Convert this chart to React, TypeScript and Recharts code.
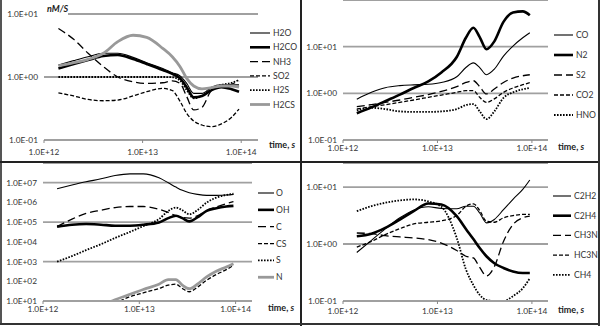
import { CartesianGrid, Legend, Line, LineChart, XAxis, YAxis } from "recharts"

// time points, s
const times = [1.4e12, 2e12, 2.8e12, 4e12, 5.6e12, 8e12, 1.1e13, 1.6e13, 2e13, 2.4e13, 2.8e13, 3.3e13, 4e13, 5e13, 6.3e13, 8e13, 9.5e13]
const xTicks = [1e12, 1e13, 1e14]

// top left, nM/s
const h2o = [1.55, 1.82, 2.1, 2.38, 2.38, 2.05, 1.69, 1.37, 1.17, 1.04, 0.79, 0.55, 0.55, 0.69, 0.75, 0.75, 0.75]
const h2co = [1.37, 1.61, 1.86, 2.15, 2.23, 1.93, 1.61, 1.29, 1.12, 0.95, 0.69, 0.475, 0.5, 0.62, 0.69, 0.64, 0.585]
const nh3 = [5.9, 3.96, 2.38, 1.46, 1.0, 0.84, 0.79, 0.81, 0.87, 0.79, 0.49, 0.3, 0.33, 0.61, 0.7, 0.77, 0.87]
const so2 = [0.56, 0.5, 0.44, 0.42, 0.43, 0.5, 0.585, 0.66, 0.61, 0.41, 0.265, 0.2, 0.173, 0.163, 0.18, 0.23, 0.31]
const h2s = [1, 1, 1, 1, 1, 1, 1, 1, 0.99, 0.875, 0.62, 0.46, 0.5, 0.66, 0.75, 0.81, 0.9]
const h2cs = [1.5, 1.69, 1.91, 2.38, 3.64, 4.6, 4.26, 2.85, 2.1, 1.46, 0.95, 0.72, 0.65, 0.68, 0.72, 0.72, 0.69]

// top right
const co = [0.75, 1.05, 1.32, 1.46, 1.52, 1.56, 1.7, 2.26, 3.57, 4.49, 3.57, 2.5, 3.3, 6.3, 10.3, 15.5, 19.9]
const n2 = [0.375, 0.5, 0.68, 0.94, 1.3, 1.8, 2.8, 6.0, 15.5, 25.4, 16, 8.8, 13, 34, 54, 57, 47]
const s2 = [0.52, 0.574, 0.64, 0.72, 0.82, 0.94, 1.1, 1.39, 1.71, 1.86, 1.39, 0.97, 1.24, 1.71, 2.12, 2.38, 2.5]
const co2 = [0.46, 0.52, 0.57, 0.64, 0.72, 0.82, 0.92, 1.05, 1.14, 1.14, 0.82, 0.64, 0.76, 1.05, 1.3, 1.53, 1.69]
const hno = [0.43, 0.49, 0.46, 0.41, 0.4, 0.4, 0.41, 0.46, 0.56, 0.59, 0.41, 0.28, 0.41, 0.8, 1.05, 1.22, 1.3]

// bottom left
const o = [4.95e6, 7.6e6, 1.11e7, 1.58e7, 2.32e7, 2.81e7, 2.81e7, 1.77e7, 9.9e6, 6.0e6, 4.1e6, 3.1e6, 2.57e6, 2.29e6, 2.29e6, 2.38e6, 2.57e6]
const oh = [5.9e4, 7.4e4, 8.0e4, 7.4e4, 6.6e4, 6.6e4, 7.4e4, 9.7e4, 1.6e5, 2.1e5, 1.6e5, 1.09e5, 1.73e5, 3.74e5, 5.1e5, 6.2e5, 6.7e5]
const c = [5.9e4, 1.43e5, 2.75e5, 4.04e5, 5.5e5, 6.2e5, 6.2e5, 4.5e5, 3.1e5, 2.1e5, 1.73e5, 1.6e5, 2.1e5, 3.74e5, 5.9e5, 8.7e5, 1.1e6]
const cs = [1, 1.7, 2.8, 4.6, 8, 16.5, 26, 43, 64, 71, 43, 29.5, 49, 113, 219, 390, 650]
const s = [1e3, 1.9e3, 3.8e3, 7.6e3, 1.58e4, 3.2e4, 6.3e4, 1.43e5, 3.7e5, 5.5e5, 4.0e5, 2.5e5, 4.0e5, 9.8e5, 1.75e6, 2.4e6, 2.76e6]
const n = [1.3, 2.2, 3.6, 6, 11.5, 22, 38.5, 71, 122, 122, 64, 41.7, 71, 166, 320, 530, 780]

// bottom right
const c2h2 = [0.71, 1.16, 1.84, 2.88, 3.93, 4.5, 4.2, 4.15, 4.6, 4.6, 3.5, 2.35, 2.7, 4.0, 6.1, 9.1, 13.3]
const c2h4 = [1.37, 1.52, 1.92, 2.69, 3.77, 5.15, 4.94, 3.08, 1.84, 1.22, 0.85, 0.61, 0.46, 0.38, 0.33, 0.31, 0.31]
const ch3n = [1.56, 1.52, 1.4, 1.33, 1.28, 1.19, 1.04, 0.77, 0.61, 0.57, 0.39, 0.276, 0.4, 1.11, 2.19, 2.88, 3.08]
const hc3n = [0.885, 1.11, 1.46, 1.86, 2.25, 2.41, 2.55, 3.16, 4.6, 5.08, 3.87, 2.51, 2.41, 2.88, 3.16, 3.3, 3.3]
const ch4 = [3.77, 4.62, 5.29, 5.82, 6.06, 5.58, 4.5, 1.28, 0.36, 0.19, 0.128, 0.104, 0.1, 0.1, 0.122, 0.167, 0.25]

type Style = { w: number; dash?: string; color: string }
const thin: Style = { w: 1.1, color: "#000" }
const thick: Style = { w: 2.6, color: "#000" }
const longDash: Style = { w: 1.3, dash: "8 4", color: "#000" }
const shortDash: Style = { w: 1.3, dash: "4 2", color: "#000" }
const dotted: Style = { w: 1.8, dash: "1.6 1.4", color: "#000" }
const gray: Style = { w: 2.8, color: "#999" }

type Series = { name: string; values: number[]; style: Style }

const FONT = "Lato, 'Open Sans', sans-serif"
const GRID = "#a0a0a0"
const TICK_FS = 8.3

const sci = (v: number) => {
  const e = Math.round(Math.log10(v))
  return `1.0E${e < 0 ? "-" : "+"}${String(Math.abs(e)).padStart(2, "0")}`
}

type PanelProps = {
  x: number
  y: number
  width: number
  height: number
  series: Series[]
  yDomain: [number, number]
  yTicks: number[]
  top: number
  left: number
  right: number
  xHeight: number
  xTickMargin: number
  legendY: number
  legendGap: number
  legendX: [number, number, number]
  timeDx: number
  timeDy: number
  unit?: boolean
}

function Panel(p: PanelProps) {
  const rows = times.map((t, i) => {
    const r: Record<string, number> = { t }
    p.series.forEach((ser) => (r[ser.name] = ser.values[i]))
    return r
  })

  const legend = () => (
    <svg width={p.right} height={10} style={{ overflow: "visible", display: "block" }}>
      {p.series.map((ser, i) => {
        const ly = p.legendY + i * p.legendGap
        return (
          <g key={ser.name}>
            <line x1={p.legendX[0]} x2={p.legendX[1]} y1={ly} y2={ly} stroke={ser.style.color}
              strokeWidth={ser.style.w} strokeDasharray={ser.style.dash} />
            <text x={p.legendX[2]} y={ly} dy="0.35em" fontSize={8.6} fill="#333" fontFamily={FONT}>{ser.name}</text>
          </g>
        )
      })}
    </svg>
  )

  return (
    <div style={{ position: "absolute", left: p.x, top: p.y }}>
      <LineChart width={p.width} height={p.height} data={rows}
        margin={{ top: p.top, right: 0, bottom: 0, left: 0 }}>
        <CartesianGrid vertical={false} stroke={GRID} strokeWidth={1.8} />
        <XAxis dataKey="t" type="number" scale="log" domain={[1e12, 1.48e14]} ticks={xTicks}
          tickFormatter={sci} height={p.xHeight} tickSize={3} tickMargin={p.xTickMargin}
          axisLine={{ stroke: GRID, strokeWidth: 1.8 }} tickLine={{ stroke: "#888" }}
          tick={{ fontSize: TICK_FS, fill: "#333", fontFamily: FONT }}
          label={{
            content: (props: any) => {
              const vb = props.viewBox
              return (
                <text x={vb.x + vb.width + p.timeDx} y={vb.y + p.timeDy} fontSize={9} fill="#222" fontFamily={FONT} fontWeight="bold">
                  time, <tspan fontStyle="italic">s</tspan>
                </text>
              )
            },
          }} />
        <YAxis type="number" scale="log" domain={p.yDomain} ticks={p.yTicks} allowDataOverflow
          tickFormatter={sci} width={p.left} axisLine={false} tickLine={false} tickSize={0} tickMargin={6}
          tick={{ fontSize: TICK_FS, fill: "#333", fontFamily: FONT }}
          label={p.unit ? {
            content: () => (
              <g>
                <rect x={44} y={9} width={24} height={9} fill="#fff" />
                <text x={47} y={12} fontSize={9} fontWeight="bold" fontStyle="italic" fill="#222" fontFamily={FONT}>nM/S</text>
              </g>
            ),
          } : undefined} />
        <Legend layout="vertical" align="right" verticalAlign="top" width={p.right}
          wrapperStyle={{ left: 0, top: 0 }} content={legend} />
        {p.series.map((ser) => (
          <Line key={ser.name} dataKey={ser.name} type="monotone" dot={false} isAnimationActive={false}
            stroke={ser.style.color} strokeWidth={ser.style.w} strokeDasharray={ser.style.dash} />
        ))}
      </LineChart>
    </div>
  )
}

export default function App() {
  return (
    <div style={{ position: "absolute", left: 0, top: 0, width: 600, height: 326, background: "#fff", overflow: "hidden" }}>
      <Panel x={0} y={0} width={301} height={162} top={14} left={44} right={43} xHeight={22} xTickMargin={6}
        yDomain={[0.1, 10]} yTicks={[0.1, 1, 10]} legendY={33} legendGap={14.3} legendX={[250, 270, 273]}
        timeDx={11} timeDy={8} unit
        series={[
          { name: "H2O", values: h2o, style: thin },
          { name: "H2CO", values: h2co, style: thick },
          { name: "NH3", values: nh3, style: longDash },
          { name: "SO2", values: so2, style: shortDash },
          { name: "H2S", values: h2s, style: dotted },
          { name: "H2CS", values: h2cs, style: gray },
        ]} />
      <Panel x={301} y={0} width={299} height={162} top={0} left={42} right={52} xHeight={22} xTickMargin={2}
        yDomain={[0.1, 100]} yTicks={[0.1, 1, 10]} legendY={35} legendGap={20} legendX={[253, 272, 275]}
        timeDx={10} timeDy={10}
        series={[
          { name: "CO", values: co, style: thin },
          { name: "N2", values: n2, style: thick },
          { name: "S2", values: s2, style: longDash },
          { name: "CO2", values: co2, style: shortDash },
          { name: "HNO", values: hno, style: dotted },
        ]} />
      <Panel x={0} y={163} width={301} height={163} top={0} left={43} right={49} xHeight={25} xTickMargin={2}
        yDomain={[10, 1e8]} yTicks={[10, 100, 1e3, 1e4, 1e5, 1e6, 1e7]} legendY={30} legendGap={16.85}
        legendX={[258, 274, 276]} timeDx={16} timeDy={10}
        series={[
          { name: "O", values: o, style: thin },
          { name: "OH", values: oh, style: thick },
          { name: "C", values: c, style: longDash },
          { name: "CS", values: cs, style: shortDash },
          { name: "S", values: s, style: dotted },
          { name: "N", values: n, style: gray },
        ]} />
      <Panel x={301} y={163} width={299} height={163} top={0} left={42} right={52} xHeight={25} xTickMargin={4}
        yDomain={[0.1, 26.4]} yTicks={[0.1, 1, 10]} legendY={33} legendGap={19.7} legendX={[252, 270, 273]}
        timeDx={10} timeDy={12}
        series={[
          { name: "C2H2", values: c2h2, style: thin },
          { name: "C2H4", values: c2h4, style: thick },
          { name: "CH3N", values: ch3n, style: longDash },
          { name: "HC3N", values: hc3n, style: shortDash },
          { name: "CH4", values: ch4, style: dotted },
        ]} />
      <div style={{ position: "absolute", left: 0, top: 0, width: 1.5, height: 325, background: "#555" }} />
      <div style={{ position: "absolute", left: 300, top: 0, width: 2, height: 326, background: "#222" }} />
      <div style={{ position: "absolute", left: 0, top: 161, width: 600, height: 2, background: "#222" }} />
      <div style={{ position: "absolute", left: 598, top: 0, width: 2, height: 326, background: "#333" }} />
      <div style={{ position: "absolute", left: 0, top: 323, width: 600, height: 2, background: "#333" }} />
    </div>
  )
}
